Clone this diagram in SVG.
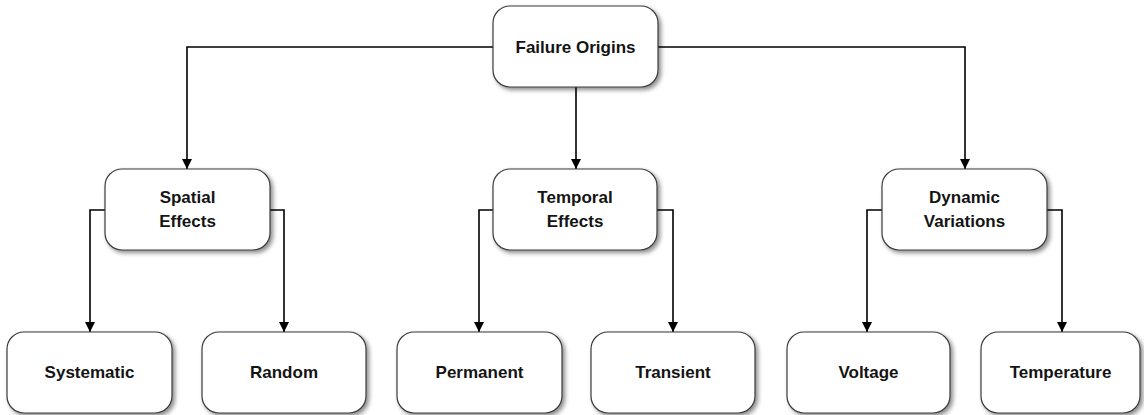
<svg xmlns="http://www.w3.org/2000/svg" width="1144" height="415" viewBox="0 0 1144 415">
  <style>
    .box { fill: #ffffff; stroke: #3a3a3a; stroke-width: 1.2; filter: url(#shadow); }
    .label { font-family: "Liberation Sans", Arial, sans-serif; font-weight: bold; font-size: 17px; fill: #141414; text-anchor: middle; }
    .link { fill: none; stroke: #000000; stroke-width: 1.6; marker-end: url(#arrow); }
  </style>
  <defs>
    <filter id="shadow" x="-10%" y="-10%" width="125%" height="130%">
      <feDropShadow dx="2.5" dy="2.5" stdDeviation="2" flood-color="#000000" flood-opacity="0.45"/>
    </filter>
    <marker id="arrow" viewBox="0 0 10 10" refX="10" refY="5" markerWidth="10" markerHeight="10" markerUnits="userSpaceOnUse" orient="auto">
      <path d="M0,0 L10,5 L0,10 Z" fill="#000000"/>
    </marker>
  </defs>

  <!-- connectors -->
  <g id="connectors">
    <path class="link" d="M493,47 H187 V169"/>
    <path class="link" d="M576,87 V169"/>
    <path class="link" d="M658,47 H965 V169"/>

    <path class="link" d="M105,210 H90 V332"/>
    <path class="link" d="M270,210 H284 V332"/>

    <path class="link" d="M493,210 H479 V332"/>
    <path class="link" d="M657,210 H673 V332"/>

    <path class="link" d="M882,210 H867 V332"/>
    <path class="link" d="M1047,210 H1062 V332"/>
  </g>

  <!-- root -->
  <g id="failure-origins">
    <rect class="box" x="493" y="6" width="165" height="81" rx="17"/>
    <text class="label" x="575.5" y="53">Failure Origins</text>
  </g>

  <!-- middle level -->
  <g id="spatial-effects">
    <rect class="box" x="105" y="169" width="165" height="81" rx="17"/>
    <text class="label" x="187.5" y="203">Spatial</text>
    <text class="label" x="187.5" y="227">Effects</text>
  </g>
  <g id="temporal-effects">
    <rect class="box" x="493" y="169" width="164" height="81" rx="17"/>
    <text class="label" x="575" y="203">Temporal</text>
    <text class="label" x="575" y="227">Effects</text>
  </g>
  <g id="dynamic-variations">
    <rect class="box" x="882" y="169" width="165" height="81" rx="17"/>
    <text class="label" x="964.5" y="203">Dynamic</text>
    <text class="label" x="964.5" y="227">Variations</text>
  </g>

  <!-- leaf level -->
  <g id="systematic">
    <rect class="box" x="7" y="332" width="165" height="81" rx="17"/>
    <text class="label" x="89.5" y="378">Systematic</text>
  </g>
  <g id="random">
    <rect class="box" x="202" y="332" width="164" height="81" rx="17"/>
    <text class="label" x="284" y="378">Random</text>
  </g>
  <g id="permanent">
    <rect class="box" x="397" y="332" width="165" height="81" rx="17"/>
    <text class="label" x="479.5" y="378">Permanent</text>
  </g>
  <g id="transient">
    <rect class="box" x="591" y="332" width="164" height="81" rx="17"/>
    <text class="label" x="673" y="378">Transient</text>
  </g>
  <g id="voltage">
    <rect class="box" x="787" y="332" width="163" height="81" rx="17"/>
    <text class="label" x="868.5" y="378">Voltage</text>
  </g>
  <g id="temperature">
    <rect class="box" x="981" y="332" width="159" height="81" rx="17"/>
    <text class="label" x="1060.5" y="378">Temperature</text>
  </g>
</svg>
